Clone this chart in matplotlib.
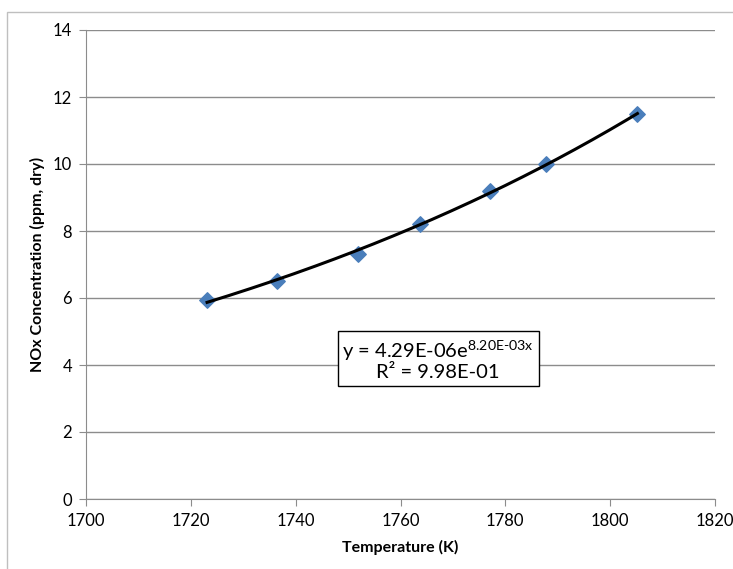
import numpy as np
import matplotlib.pyplot as plt
from matplotlib.patches import Rectangle

# measured points
temperature = [1723.1, 1736.4, 1751.9, 1763.7, 1777.0, 1787.7, 1805.2]
nox_ppm = [5.95, 6.5, 7.3, 8.2, 9.2, 10.0, 11.5]

x_ticks = [1700, 1720, 1740, 1760, 1780, 1800, 1820]
y_ticks = [0, 2, 4, 6, 8, 10, 12, 14]

fit_label = "y = 4.29E-06e$^{\\mathregular{8.20E\u201003x}}$\nR\u00b2 = 9.98E-01"

plt.rcParams["font.family"] = ["Lato", "DejaVu Sans"]
plt.rcParams["mathtext.fontset"] = "custom"
plt.rcParams["mathtext.rm"] = "Lato"

grid_col = "#8c8c8c"

fig = plt.figure(figsize=(7.33, 5.69), dpi=100)
ax = fig.add_axes([86 / 733, 1 - 499 / 569, 629 / 733, 469 / 569])

# outer chart border (cut off at right and bottom)
fig.patches.append(Rectangle((7 / 733, -0.1), 1.2, 1.1 - 12 / 569,
                             transform=fig.transFigure, fill=False,
                             edgecolor="#bfbfbf", lw=1.0))

# exponential trendline fitted to the points
b, ln_a = np.polyfit(temperature, np.log(nox_ppm), 1)
xs = np.linspace(min(temperature), max(temperature), 200)
ax.plot(xs, np.exp(ln_a) * np.exp(b * xs), color="black", lw=2.2, zorder=3)

ax.scatter(temperature, nox_ppm, marker="D", s=62, color="#4a7ebb",
           edgecolor="#4a7ebb", zorder=2)

ax.set_xlim(1700, 1820)
ax.set_ylim(0, 14)
ax.set_xticks(x_ticks)
ax.set_yticks(y_ticks)
ax.grid(axis="y", color=grid_col, lw=1.0)
ax.set_axisbelow(True)

for s in ["top", "right"]:
    ax.spines[s].set_visible(False)
for s in ["left", "bottom"]:
    ax.spines[s].set_color(grid_col)
ax.tick_params(axis="both", direction="out", length=5, color=grid_col,
               labelsize=12, pad=5)

ax.set_xlabel("Temperature (K)", fontsize=11.5, fontweight="bold", labelpad=8)
ax.set_ylabel("NOx Concentration (ppm, dry)", fontsize=11.5,
              fontweight="bold", labelpad=6)

ax.text(0.56, 0.297, fit_label, transform=ax.transAxes, ha="center",
        va="center", multialignment="center", fontsize=14.5, linespacing=1.1,
        bbox=dict(boxstyle="square,pad=0.22", facecolor="white",
                  edgecolor="black", lw=1.0))

fig.savefig("out.png")
